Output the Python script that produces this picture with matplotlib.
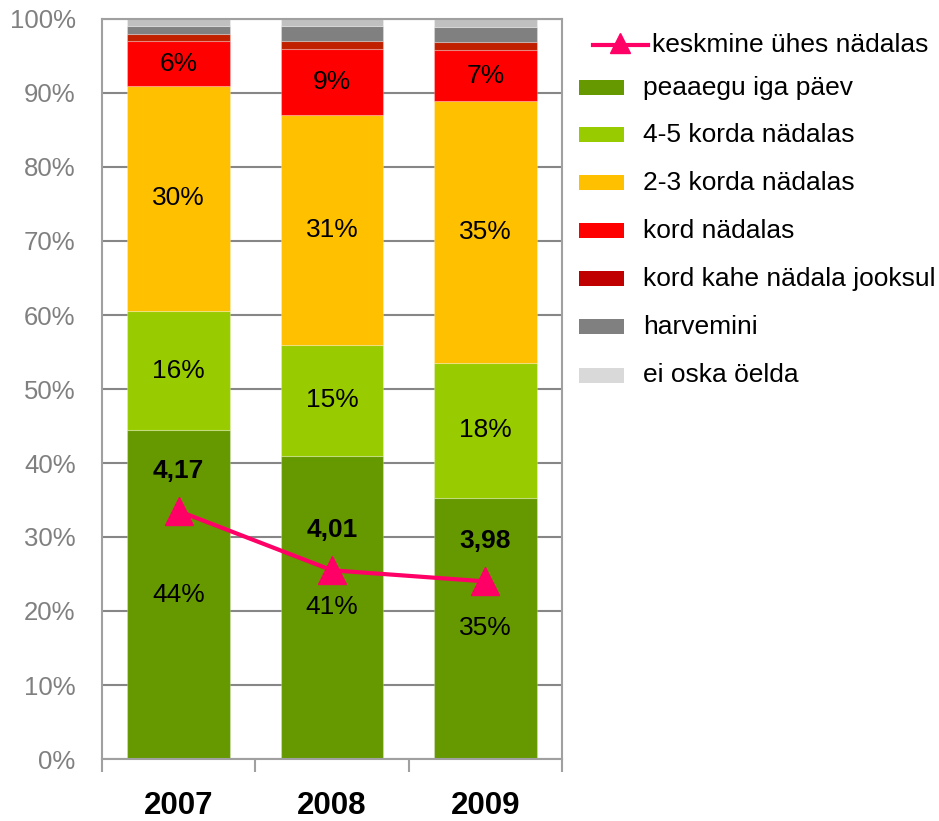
import matplotlib
matplotlib.use("Agg")
import matplotlib.pyplot as plt
from matplotlib.patches import Rectangle
from matplotlib.lines import Line2D
import numpy as np

plt.rcParams['font.family'] = ['Liberation Sans', 'DejaVu Sans']

years = ["2007", "2008", "2009"]
categories = ["peaaegu iga päev", "4-5 korda nädalas", "2-3 korda nädalas",
              "kord nädalas", "kord kahe nädala jooksul", "harvemini", "ei oska öelda"]
peaaegu = [44.4, 41.0, 35.3]
korda45 = [16.2, 14.9, 18.2]
korda23 = [30.3, 31.1, 35.4]
kord_nadalas = [6.1, 9.0, 6.9]
kord_kahe = [1.0, 1.0, 1.1]
harvemini = [1.0, 2.0, 2.0]
ei_oska = [1.0, 1.0, 1.1]
series = [peaaegu, korda45, korda23, kord_nadalas, kord_kahe, harvemini, ei_oska]
colors = ["#669900", "#99CC00", "#FFC000", "#FF0000", "#C02000", "#808080", "#C0C0C0"]
legend_colors = ["#669900", "#99CC00", "#FFC000", "#FF0000", "#C00000", "#808080", "#D9D9D9"]

line_label = "keskmine ühes nädalas"
keskmine = [4.17, 4.01, 3.98]
line_color = "#FF0066"

fig = plt.figure(figsize=(9.39, 8.21), dpi=100)
ax = fig.add_axes([102/939, 62/821, 460/939, 740/821])
x = np.arange(len(years))
bottom = np.zeros(len(years))
for vals, col in zip(series, colors):
    ax.bar(x, vals, width=0.67, bottom=bottom, color=col, zorder=2,
           edgecolor=(1, 1, 1, 0.25), linewidth=0.8)
    for xi, v, b in zip(x, vals, bottom):
        if v >= 5:
            ax.text(xi, b + v / 2, f"{v:.0f}%", ha="center", va="center",
                    fontsize=19, color="black", zorder=5)
    bottom += np.array(vals)

ax.set_xlim(-0.5, 2.5)
ax.set_ylim(0, 100)
ax.set_yticks(np.arange(0, 101, 10))
ax.set_yticklabels([f"{v}%" for v in range(0, 101, 10)])
ax.yaxis.grid(True, color="#868686", linewidth=1.5, zorder=0)
ax.set_axisbelow(True)
for s in ax.spines.values():
    s.set_color("#A0A0A0")
    s.set_linewidth(1.5)
ax.tick_params(axis="y", length=0, pad=19, labelsize=18.5, labelcolor="#808080")
ax.set_xticks(x)
ax.set_xticklabels(years, fontsize=22.5, fontweight="bold")
ax.tick_params(axis="x", which="major", length=0, pad=23)
ax.set_xticks([-0.5, 0.5, 1.5, 2.5], minor=True)
ax.tick_params(axis="x", which="minor", length=9, width=1.5, color="#A0A0A0", direction="out")

ax2 = ax.twinx()
ax2.set_ylim(3.5, 5.5)
ax2.axis("off")
ax2.plot(x, keskmine, color=line_color, linewidth=3, marker="^", markersize=20,
         zorder=6)
for xi, v in zip(x, keskmine):
    ax2.annotate(f"{v:.2f}".replace(".", ","), (xi, v), xytext=(0, 29),
                 textcoords="offset points", ha="center", va="center",
                 fontsize=19, fontweight="bold", color="black")

# legend
fig.add_artist(Line2D([593/939, 648/939], [1 - 45/821, 1 - 45/821], color=line_color,
                      linewidth=3, transform=fig.transFigure))
fig.add_artist(Line2D([620/939], [1 - 43/821], color=line_color, marker="^", markersize=14,
                      linewidth=0, transform=fig.transFigure))
fig.text(652/939, 1 - 45/821, line_label, fontsize=19, va="center", ha="left")
row_y = [88, 135, 183, 231, 279, 327, 375]
for yy, lab, col in zip(row_y, categories, legend_colors):
    fig.add_artist(Rectangle((579/939, 1 - (yy + 7.5)/821), 45/939, 15/821,
                             facecolor=col, edgecolor="none", transform=fig.transFigure))
    fig.text(643/939, 1 - yy/821, lab, fontsize=19, va="center", ha="left")

fig.savefig("out.png", dpi=100)
